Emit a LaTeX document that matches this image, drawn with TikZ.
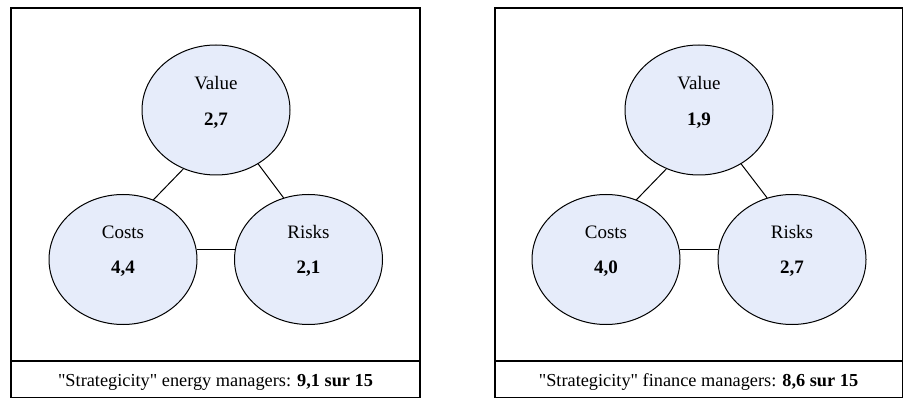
\documentclass[tikz,border=0pt]{standalone}
\usepackage{fontspec}
\setmainfont[Ligatures=NoCommon]{Liberation Serif}
\usetikzlibrary{shapes.geometric}
\definecolor{ellfill}{RGB}{230,236,250}
\tikzset{
  ell/.style={ellipse, draw=black, line width=1pt, fill=ellfill, minimum width=148pt, minimum height=130pt, inner sep=0pt},
  lbl/.style={inner sep=0pt, font=\fontsize{19}{22}\selectfont},
  captxt/.style={inner sep=0pt, font=\fontsize{18.3}{22}\selectfont},
  frame/.style={draw=black, line width=1.2pt},
  link/.style={draw=black, line width=1pt}
}
\begin{document}
\begin{tikzpicture}[x=1pt,y=-1pt]
\useasboundingbox (0,0) rectangle (903,398);
\fill[white] (0,0) rectangle (903,398);
% left panel
\draw[frame] (11,8) rectangle (420,397.5);
\draw[frame] (11,361) -- (420,361);
\node[ell] (v1) at (216,110) {};
\node[ell] (c1) at (123,259.5) {};
\node[ell] (r1) at (308.5,259.5) {};
\draw[link] (v1.241) -- (c1.63);
\draw[link] (v1.-52) -- (r1.112);
\draw[link] (c1.8) -- (r1.172);
\node[lbl] (v1t) at (216,83) {Value};
\node[lbl] (v1n) at (216,121) {\textbf{2,7}};
\node[lbl] (c1t) at (123,232) {Costs};
\node[lbl] (c1n) at (123,269) {\textbf{4,4}};
\node[lbl] (r1t) at (308.5,232) {Risks};
\node[lbl] (r1n) at (308.5,269) {\textbf{2,1}};
\node[captxt] (k1) at (215.5,382) {\textquotedbl Strategicity\textquotedbl{} energy managers: \textbf{9,1 sur 15}};
% right panel
\draw[frame] (495,8) rectangle (902.6,397.5);
\draw[frame] (495,361) -- (902.6,361);
\node[ell] (v2) at (699,110) {};
\node[ell] (c2) at (606,259.5) {};
\node[ell] (r2) at (792,259.5) {};
\draw[link] (v2.241) -- (c2.63);
\draw[link] (v2.-52) -- (r2.112);
\draw[link] (c2.8) -- (r2.172);
\node[lbl] (v2t) at (699,83) {Value};
\node[lbl] (v2n) at (699,121) {\textbf{1,9}};
\node[lbl] (c2t) at (606,232) {Costs};
\node[lbl] (c2n) at (606,269) {\textbf{4,0}};
\node[lbl] (r2t) at (792,232) {Risks};
\node[lbl] (r2n) at (792,269) {\textbf{2,7}};
\node[captxt] (k2) at (698.5,382) {\textquotedbl Strategicity\textquotedbl{} finance managers: \textbf{8,6 sur 15}};
\end{tikzpicture}
\end{document}
